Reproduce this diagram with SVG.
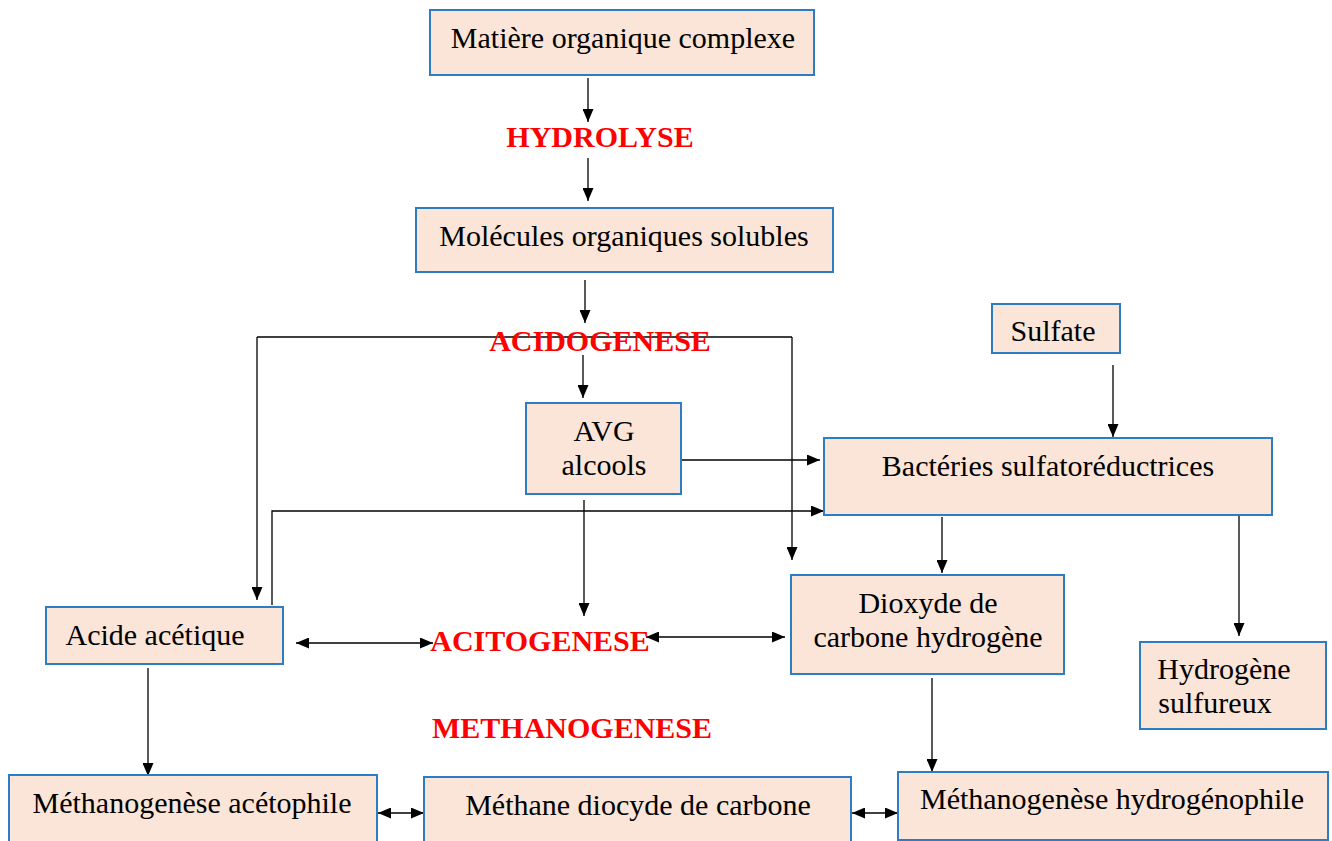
<svg xmlns="http://www.w3.org/2000/svg" width="1332" height="841" viewBox="0 0 1332 841">
<defs>
<marker id="ah" markerUnits="userSpaceOnUse" markerWidth="13" markerHeight="11" refX="13" refY="5.5" orient="auto-start-reverse">
<path d="M0,0 L13,5.5 L0,11 z" fill="#000"/>
</marker>
<style>
.box{fill:#fae5d8;stroke:#2e7dc4;stroke-width:2}
.t{font-family:"Liberation Serif","Times New Roman",serif;font-size:30px;fill:#000;text-anchor:middle}
.r{font-family:"Liberation Serif","Times New Roman",serif;font-size:30px;font-weight:bold;fill:#ff0000;text-anchor:middle}
.c{fill:none;stroke:#000;stroke-width:1.3}
.a{marker-end:url(#ah)}
.d{marker-start:url(#ah);marker-end:url(#ah)}
</style>
</defs>
<rect width="1332" height="841" fill="#fff"/>
<g id="connectors">
<line class="c a" x1="588" y1="78" x2="588" y2="122"/>
<line class="c a" x1="588" y1="158" x2="588" y2="201"/>
<line class="c a" x1="585" y1="280" x2="585" y2="323"/>
<line class="c a" x1="583" y1="355" x2="583" y2="398"/>
<polyline class="c a" points="257,337 257,600"/>
<line class="c" x1="257" y1="337" x2="792" y2="337"/>
<polyline class="c a" points="792,337 792,560"/>
<line class="c a" x1="682" y1="460" x2="820" y2="460"/>
<polyline class="c a" points="272,605 272,511 824,511"/>
<line class="c a" x1="584" y1="500" x2="584" y2="616"/>
<line class="c d" x1="296" y1="643" x2="433" y2="643"/>
<line class="c d" x1="646" y1="637" x2="785" y2="637"/>
<line class="c a" x1="1113" y1="365" x2="1113" y2="437"/>
<line class="c a" x1="942" y1="517" x2="942" y2="573"/>
<line class="c a" x1="1239" y1="505" x2="1239" y2="636"/>
<line class="c a" x1="148" y1="668" x2="148" y2="776"/>
<line class="c a" x1="932" y1="678" x2="932" y2="772"/>
<line class="c d" x1="378" y1="813" x2="424" y2="813"/>
<line class="c d" x1="852" y1="813" x2="898" y2="813"/>
</g>
<g id="labels">
<text class="r" x="600" y="147">HYDROLYSE</text>
<text class="r" x="600" y="351">ACIDOGENESE</text>
<text class="r" x="540" y="651">ACITOGENESE</text>
<text class="r" x="572" y="738">METHANOGENESE</text>
</g>
<g id="n1"><rect class="box" x="430" y="10" width="384" height="65"/><text class="t" x="623" y="48">Matière organique complexe</text></g>
<g id="n2"><rect class="box" x="416" y="208" width="417" height="64"/><text class="t" x="624" y="246">Molécules organiques solubles</text></g>
<g id="n3"><rect class="box" x="992" y="304" width="128" height="49"/><text class="t" x="1053" y="341">Sulfate</text></g>
<g id="n4"><rect class="box" x="526" y="403" width="155" height="91"/><text class="t" x="604" y="441">AVG</text><text class="t" x="604" y="475">alcools</text></g>
<g id="n5"><rect class="box" x="824" y="438" width="448" height="77"/><text class="t" x="1048" y="476">Bactéries sulfatoréductrices</text></g>
<g id="n6"><rect class="box" x="791" y="575" width="273" height="99"/><text class="t" x="928" y="613">Dioxyde de</text><text class="t" x="928" y="647">carbone hydrogène</text></g>
<g id="n7"><rect class="box" x="46" y="607" width="237" height="57"/><text class="t" x="155" y="645">Acide acétique</text></g>
<g id="n8"><rect class="box" x="1140" y="642" width="186" height="87"/><text class="t" x="1224" y="679">Hydrogène</text><text class="t" x="1215" y="713">sulfureux</text></g>
<g id="n9"><rect class="box" x="9" y="775" width="368" height="70"/><text class="t" x="192" y="813">Méthanogenèse acétophile</text></g>
<g id="n10"><rect class="box" x="424" y="777" width="427" height="68"/><text class="t" x="638" y="815">Méthane diocyde de carbone</text></g>
<g id="n11"><rect class="box" x="898" y="772" width="430" height="68"/><text class="t" x="1112" y="809">Méthanogenèse hydrogénophile</text></g>
</svg>
